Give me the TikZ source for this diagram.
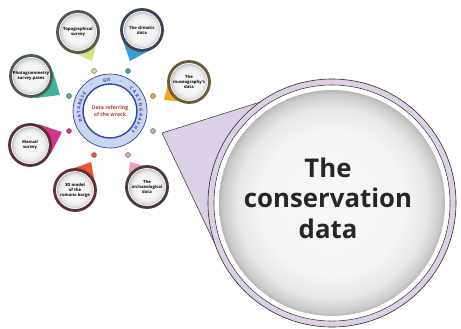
\documentclass[tikz,border=0pt]{standalone}
\usepackage{fontspec}
\setsansfont{Open Sans}
\usepackage{xcolor}
\usetikzlibrary{math}
\usetikzlibrary{calc}
\usetikzlibrary{decorations.text}

\definecolor{topogreen}{HTML}{D6E27C}
\definecolor{topoline}{HTML}{55574B}
\definecolor{climblue}{HTML}{3A9BD6}
\definecolor{climline}{HTML}{3A4452}
\definecolor{museorange}{HTML}{F3A71E}
\definecolor{museline}{HTML}{6B5B3B}
\definecolor{phototeal}{HTML}{3DB39A}
\definecolor{photoline}{HTML}{4D5A52}
\definecolor{manmagenta}{HTML}{D4348B}
\definecolor{manline}{HTML}{5B3039}
\definecolor{modelred}{HTML}{E9543B}
\definecolor{modelline}{HTML}{5B3236}
\definecolor{archpink}{HTML}{EFA0B2}
\definecolor{archline}{HTML}{4A3A3E}
\definecolor{ringblue}{HTML}{2F45A8}
\definecolor{ringband}{HTML}{CCD5EF}
\definecolor{wreckred}{HTML}{AD3B42}
\definecolor{lavender}{HTML}{DCD0E6}

\pgfdeclareradialshading{bubbleshade}{\pgfpoint{0bp}{0bp}}{%
  color(0bp)=(black!3); color(16bp)=(black!4); color(21bp)=(black!9);
  color(24bp)=(black!20); color(25bp)=(black!28); color(50bp)=(black!28)}

\newcommand\ringfont{\sffamily\bfseries\fontsize{3.8}{4.5}\selectfont}

\tikzset{
  bubble/.style={circle, inner sep=0pt, minimum size=1.11cm, shading=bubbleshade,
    draw=white, line width=0.6pt, align=center,
    font=\sffamily\bfseries\fontsize{3.6}{4.3}\selectfont},
  dotmark/.style={circle, inner sep=0pt, minimum size=0.15cm, draw=black!70,
    line width=0.3pt},
  ringsep/.style={text=ringblue, font=\ringfont, inner sep=0pt},
}

\begin{document}
\begin{tikzpicture}[x=0.03cm,y=-0.03cm,line width=0.20mm]

  \tikzmath{
    \bubr  = 20.5; % radius of the dark rim of a small bubble
    \ringo = 37;   % outer radius of the GIS ring
    \ringi = 27;   % inner radius of the GIS ring
    \bigr  = 124;  % radius of the conservation bubble
  }

  \useasboundingbox (0,0) rectangle (461,328);

  % Centres of the ring and of the conservation bubble
  \coordinate (ring) at (110,111);
  \coordinate (cons) at (332,203);
  \coordinate (cons-tip) at (162,133);

  % Pointer of the conservation bubble
  \filldraw[fill=lavender, draw=black!85, line width=0.4pt]
    (cons-tip) -- ($(cons)+(-62,-104)$) -- ($(cons)+(-108,60)$) -- cycle;

  % Conservation bubble
  \filldraw[fill=lavender, draw=black!85, line width=0.5pt] (cons) circle (\bigr);
  \draw[black!80, line width=0.5pt] (cons) circle (118);
  \fill[white] (cons) circle (117.5);
  \shade[shading=bubbleshade] (cons) circle (113);
  \node[font=\sffamily\bfseries\fontsize{22}{26}\selectfont, text=black!85, align=center]
    (cons-text) at (328,198) {The\\conservation\\data};
  \node[dotmark, fill=black!30] (dot-cons) at (153,131) {};

  % Small bubbles round the ring
  \foreach \name/\cx/\cy/\tx/\ty/\dx/\dy/\fillc/\linec/\lbl in {
      topo/78/32/92/61/94/71/topogreen/topoline/{Topographical\\survey},
      clim/142/30/130/61/128/71/climblue/climline/{The climatic\\data},
      museo/189/82/164/100/153/96/museorange/museline/{The\\museography's\\data},
      photo/31/76/60/95/69/96/phototeal/photoline/{Photogrammetry\\survey pases},
      manual/30/145/62/132/69/131/manmagenta/manline/{Manual\\survey},
      model/75/190/91/162/94/155/modelred/modelline/{3D model\\of the\\romano barge},
      arch/147/187/130/162/128/155/archpink/archline/{The\\archaeological\\data}}
  {
    \coordinate (c-\name) at (\cx,\cy);
    \coordinate (tip-\name) at (\tx,\ty);
    \fill[\fillc] (tip-\name) -- ($(c-\name)!0.65!45:(tip-\name)$) -- (c-\name)
      -- ($(c-\name)!0.65!-45:(tip-\name)$) -- cycle;
    \node[bubble] (bub-\name) at (c-\name) {\lbl};
    \draw[\linec, line width=2.4pt] (bub-\name.center) circle (\bubr);
    \node[dotmark, fill=\fillc] (dot-\name) at (\dx,\dy) {};
  }

  % GIS ring
  \begin{scope}[shift={(ring)}, y=0.03cm]
    \filldraw[fill=ringband, draw=ringblue, line width=0.6pt] (0,0) circle (\ringo);
    \filldraw[fill=white, draw=ringblue, line width=1.2pt] (0,0) circle (\ringi);
    \path[decorate, decoration={text along path, text align=fit to path,
        text color=ringblue, text={|\ringfont|DATABASE}}]
      (201:29.5) arc[start angle=201, end angle=143, radius=29.5];
    \path[decorate, decoration={text along path, text align=center,
        text color=ringblue, text={|\ringfont|GIS}}]
      (110:29.5) arc[start angle=110, end angle=82, radius=29.5];
    \path[decorate, decoration={text along path, text align=fit to path,
        text color=ringblue, text={|\ringfont|CARTOGRAPHY}}]
      (49:29.5) arc[start angle=49, end angle=-45, radius=29.5];
    \node[ringsep, rotate=-21] (sep-right) at (69:31.5) {-};
    \node[ringsep, rotate=36] (sep-left) at (126:31.5) {-};
  \end{scope}
  \node[text=wreckred, align=center, font=\sffamily\bfseries\fontsize{4.4}{5.4}\selectfont]
    (wreck) at (ring) {Data referring\\of the wreck};

\end{tikzpicture}
\end{document}
